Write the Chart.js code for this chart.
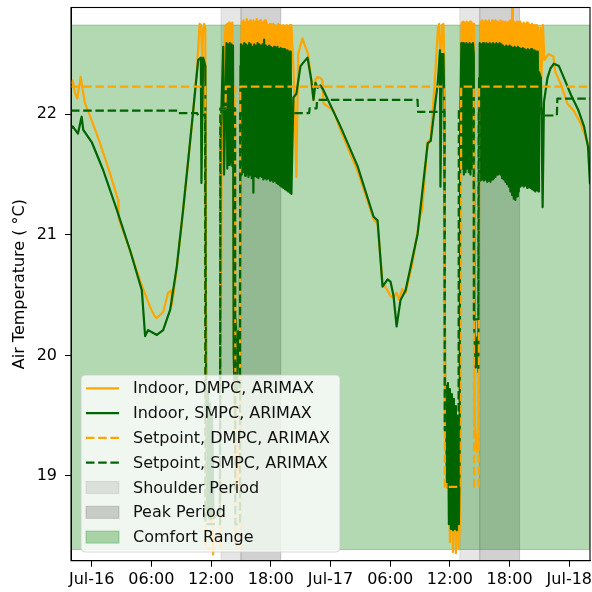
<!DOCTYPE html>
<html>
<head>
<meta charset="utf-8">
<title>Air temperature, DMPC vs SMPC</title>
<script src="https://cdn.jsdelivr.net/npm/chart.js@4.4.1/dist/chart.umd.min.js"></script>
<style>
  html, body { margin: 0; padding: 0; background: #fff; }
  #wrap { width: 592px; height: 592px; }
</style>
</head>
<body>
<div id="wrap"><canvas id="tempChart" width="592" height="592"></canvas></div>
<script>
// x values: hours after midnight Jul-16, y values: deg C
const xTickHours = [0, 6, 12, 18, 24, 30, 36, 42, 48];
const xTickLabels = ['Jul-16', '06:00', '12:00', '18:00', 'Jul-17', '06:00', '12:00', '18:00', 'Jul-18'];
const yTicks = [19, 20, 21, 22];

const comfortLow = 18.39;
const comfortHigh = 22.74;
const shoulderSpans = [[13, 15], [37, 39]];
const peakSpans = [[15, 19], [39, 43]];

// Indoor temperature, DMPC (orange)
const dmpcIndoorDay1 = [
  [-2.08, 22.25], [-1.91, 22.28], [-1.68, 22.18], [-1.45, 22.13], [-1.11, 22.31], [-0.9, 22.2], [-0.67, 22.09],
  [0, 21.95], [0.84, 21.76], [1.84, 21.51], [2.65, 21.29], [2.7, 21.14], [3.86, 20.87], [4.86, 20.62],
  [5.87, 20.4], [6.3, 20.33], [6.55, 20.31], [7.18, 20.36], [7.68, 20.52], [8.0, 20.54], [8.06, 20.42],
  [8.56, 20.73], [9.19, 21.2], [9.7, 21.61], [10.2, 22.02], [10.6, 22.4], [10.75, 22.62], [10.85, 22.75],
  [10.98, 22.74], [11.1, 22.46], [11.2, 22.7], [11.3, 22.75], [11.42, 22.72],
  [11.5, 19.6], [11.6, 18.9], [11.75, 19.3], [11.9, 18.6], [12.05, 19.0], [12.2, 18.35], [12.3, 18.5], [12.9, 18.45],
  [13.05, 21.6], [13.3, 22.5], [13.47, 22.74], [13.55, 22.1], [13.63, 22.75], [13.72, 22.1], [13.8, 22.76],
  [13.88, 22.1], [13.97, 22.75], [14.05, 22.1], [14.13, 22.76], [14.25, 21.8],
  [14.32, 19.4], [14.45, 18.95], [14.6, 19.3], [14.75, 18.9], [14.9, 19.2], [14.97, 22.5]
];
const dmpcPeakDay1 = [
  [15.00, 22.10], [15.08, 22.77], [15.17, 22.05], [15.25, 22.78], [15.33, 22.08], [15.42, 22.76],
  [15.50, 22.04], [15.58, 22.79], [15.67, 22.07], [15.75, 22.77], [15.83, 22.05], [15.92, 22.78],
  [16.00, 22.06], [16.08, 22.76], [16.17, 22.04], [16.25, 22.78], [16.33, 22.07], [16.42, 22.77],
  [16.50, 22.05], [16.58, 22.79], [16.67, 22.06], [16.75, 22.77], [16.83, 22.04], [16.92, 22.78],
  [17.00, 22.07], [17.08, 22.76], [17.17, 22.05], [17.25, 22.77], [17.33, 22.06], [17.42, 22.78],
  [17.50, 22.04], [17.58, 22.76], [17.67, 22.07], [17.75, 22.74], [17.83, 22.05], [17.92, 22.75],
  [18.00, 22.06], [18.08, 22.74], [18.17, 22.04], [18.25, 22.75], [18.33, 22.07], [18.42, 22.74],
  [18.50, 22.05], [18.58, 22.73], [18.67, 22.06], [18.75, 22.75], [18.83, 22.04], [18.92, 22.74],
  [19.00, 22.07], [19.08, 22.73], [19.17, 22.05], [19.25, 22.74], [19.33, 22.06], [19.42, 22.73],
  [19.50, 22.04], [19.58, 22.74], [19.67, 22.07], [19.75, 22.73], [19.83, 22.05], [19.92, 22.74]
];
const dmpcIndoorNight = [
  [20.07, 22.74], [20.3, 22.35], [20.57, 21.48], [20.75, 22.5], [21.18, 22.63], [21.48, 22.56], [21.75, 22.5],
  [22.0, 22.33], [22.29, 22.12], [22.5, 22.29], [22.69, 22.31], [23.0, 22.3], [23.19, 22.28], [23.29, 22.09],
  [24.3, 22.03], [25.0, 21.87], [26.72, 21.53], [28.33, 21.13], [28.73, 21.09], [29.03, 20.8], [29.23, 20.6],
  [29.74, 20.54], [30.04, 20.49], [30.34, 20.48], [30.64, 20.52], [30.9, 20.46], [31.2, 20.55], [31.55, 20.52],
  [32.2, 20.75], [33.0, 21.15], [33.2, 21.2], [33.77, 21.77], [34.07, 21.8], [34.5, 22.3], [34.8, 22.72],
  [34.93, 22.75], [35.08, 22.3], [35.22, 22.74], [35.35, 22.75], [35.45, 22.4],
  [35.52, 19.5], [35.7, 18.9], [35.85, 19.4], [36.0, 18.45], [36.15, 19.2], [36.3, 18.37], [36.45, 19.1],
  [36.6, 18.36], [36.75, 19.0], [36.9, 18.4], [37.0, 18.6], [37.08, 22.3],
  [37.19, 22.76], [37.27, 22.05], [37.36, 22.77], [37.44, 22.05], [37.53, 22.76], [37.61, 22.05], [37.69, 22.77],
  [37.78, 22.05], [37.86, 22.76], [37.94, 22.05], [38.03, 22.77], [38.11, 22.05], [38.19, 22.76], [38.28, 22.05],
  [38.36, 22.75], [38.42, 22.3], [38.47, 19.5], [38.7, 19.2], [38.88, 19.21], [38.95, 22.2]
];
const dmpcPeakDay2 = [
  [39.00, 22.10], [39.08, 22.77], [39.17, 22.05], [39.25, 22.78], [39.33, 22.07], [39.42, 22.77],
  [39.50, 22.04], [39.58, 22.78], [39.67, 22.06], [39.75, 22.77], [39.83, 22.05], [39.92, 22.78],
  [40.00, 22.07], [40.08, 22.76], [40.17, 22.04], [40.25, 22.78], [40.33, 22.06], [40.42, 22.77],
  [40.50, 22.05], [40.58, 22.78], [40.67, 22.07], [40.75, 22.77], [40.83, 22.04], [40.92, 22.76],
  [41.00, 22.06], [41.08, 22.78], [41.17, 22.05], [41.25, 22.77], [41.33, 22.07], [41.42, 22.76],
  [41.50, 22.04], [41.58, 22.77], [41.67, 22.06], [41.75, 22.76], [41.83, 22.05], [41.92, 22.77],
  [42.00, 22.07], [42.08, 22.78], [42.17, 22.04], [42.25, 22.93], [42.33, 22.06], [42.42, 22.77],
  [42.50, 22.05], [42.58, 22.76], [42.67, 22.07], [42.75, 22.77], [42.83, 22.04], [42.92, 22.76],
  [43.00, 22.06], [43.08, 22.77], [43.17, 22.05], [43.25, 22.75], [43.33, 22.07], [43.42, 22.76],
  [43.50, 22.04], [43.58, 22.75], [43.67, 22.06], [43.75, 22.76], [43.83, 22.05], [43.92, 22.75],
  [44.00, 22.07], [44.08, 22.74], [44.17, 22.04], [44.25, 22.75], [44.33, 22.06], [44.42, 22.74],
  [44.50, 22.05], [44.58, 22.74], [44.67, 22.07], [44.75, 22.74]
];
const dmpcIndoorEnd = [
  [44.84, 22.72], [44.95, 22.2], [45.1, 22.72], [45.2, 22.3], [45.35, 22.74], [45.5, 22.45], [45.9, 22.5],
  [46.4, 22.48], [46.6, 22.35], [47.1, 22.26], [47.8, 22.09], [48.45, 22.03], [49.17, 21.92], [49.85, 21.76],
  [50.08, 21.68]
];

// Indoor temperature, SMPC (dark green)
const smpcIndoorDay1 = [
  [-2.08, 21.88], [-1.91, 21.9], [-1.38, 21.84], [-1.01, 21.98], [-0.85, 21.87], [0, 21.77], [1.14, 21.54],
  [2.52, 21.21], [3.86, 20.87], [5.04, 20.54], [5.37, 20.16], [5.67, 20.21], [6.1, 20.19], [6.55, 20.17],
  [7.18, 20.21], [7.89, 20.38], [8.56, 20.74], [9.19, 21.21], [9.7, 21.62], [10.2, 22.03], [10.7, 22.45],
  [10.97, 22.47], [11.03, 21.43], [11.2, 22.47], [11.42, 22.4],
  [11.5, 19.8], [11.6, 18.7], [11.7, 19.7], [11.8, 18.65], [11.9, 19.6], [12.0, 18.64], [12.1, 19.5],
  [12.25, 18.65], [12.88, 18.7], [12.95, 21.8], [13.22, 22.56], [13.3, 21.5], [13.55, 22.59], [13.63, 21.55],
  [13.72, 22.58], [13.8, 21.58], [13.88, 22.59], [13.97, 21.6], [14.05, 22.58], [14.13, 21.57], [14.2, 22.57],
  [14.27, 20.0], [14.4, 19.6], [14.5, 20.3], [14.62, 19.7], [14.75, 20.2], [14.88, 19.9], [14.95, 22.4]
];
const smpcPeakDay1 = [
  [15.00, 22.58], [15.08, 21.50], [15.17, 22.57], [15.25, 21.52], [15.33, 22.59], [15.42, 21.49],
  [15.50, 22.58], [15.58, 21.51], [15.67, 22.57], [15.75, 21.48], [15.83, 22.59], [15.92, 21.50],
  [16.00, 22.58], [16.08, 21.47], [16.17, 22.56], [16.25, 21.35], [16.33, 22.58], [16.42, 21.49],
  [16.50, 22.57], [16.58, 21.48], [16.67, 22.59], [16.75, 21.47], [16.83, 22.58], [16.92, 21.49],
  [17.00, 22.57], [17.08, 21.48], [17.17, 22.58], [17.25, 21.46], [17.33, 22.62], [17.42, 21.47],
  [17.50, 22.57], [17.58, 21.46], [17.67, 22.56], [17.75, 21.47], [17.83, 22.57], [17.92, 21.45],
  [18.00, 22.56], [18.08, 21.46], [18.17, 22.55], [18.25, 21.44], [18.33, 22.56], [18.42, 21.45],
  [18.50, 22.55], [18.58, 21.43], [18.67, 22.56], [18.75, 21.42], [18.83, 22.54], [18.92, 21.41],
  [19.00, 22.55], [19.08, 21.40], [19.17, 22.54], [19.25, 21.39], [19.33, 22.54], [19.42, 21.38],
  [19.50, 22.53], [19.58, 21.37], [19.67, 22.53], [19.75, 21.36], [19.83, 22.52], [19.92, 21.35],
  [20.00, 22.52]
];
const smpcIndoorNight = [
  [20.07, 21.34], [20.27, 22.14], [20.57, 22.17], [20.98, 22.4], [21.69, 22.47], [22.08, 22.28], [22.29, 22.12],
  [22.49, 22.26], [22.69, 22.22], [22.99, 22.24], [23.29, 22.2], [25.0, 21.9], [26.72, 21.57], [28.33, 21.15],
  [28.73, 21.12], [29.03, 20.79], [29.23, 20.57], [29.74, 20.63], [30.04, 20.61], [30.34, 20.49], [30.64, 20.24],
  [31.04, 20.46], [31.55, 20.54], [32.76, 21.01], [33.77, 21.76], [34.07, 21.78], [34.78, 22.26], [35.0, 22.53],
  [35.05, 21.4], [35.2, 22.5], [35.35, 22.5], [35.45, 22.0],
  [35.52, 19.6], [35.6, 19.75], [35.7, 18.95], [35.8, 19.77], [35.9, 18.6], [36.0, 19.72], [36.1, 18.56],
  [36.2, 19.68], [36.3, 18.55], [36.4, 19.64], [36.5, 18.56], [36.6, 19.58], [36.7, 18.55], [36.8, 19.5],
  [36.9, 18.6], [36.98, 19.2], [37.03, 21.8], [37.15, 22.59], [37.23, 21.55], [37.32, 22.59], [37.4, 21.5],
  [37.48, 22.58], [37.57, 21.52], [37.65, 22.59], [37.73, 21.55], [37.82, 22.58], [37.9, 21.52], [37.98, 22.59],
  [38.07, 21.5], [38.15, 22.58], [38.23, 21.55], [38.32, 22.59], [38.4, 22.5], [38.46, 20.2], [38.6, 19.9],
  [38.75, 20.15], [38.86, 19.86], [38.93, 22.3]
];
const smpcPeakDay2 = [
  [39.00, 22.59], [39.08, 21.45], [39.17, 22.58], [39.25, 21.46], [39.33, 22.59], [39.42, 21.45],
  [39.50, 22.58], [39.58, 21.46], [39.67, 22.59], [39.75, 21.44], [39.83, 22.58], [39.92, 21.45],
  [40.00, 22.59], [40.08, 21.44], [40.17, 22.58], [40.25, 21.46], [40.33, 22.59], [40.42, 21.47],
  [40.50, 22.58], [40.58, 21.48], [40.67, 22.59], [40.75, 21.50], [40.83, 22.58], [40.92, 21.51],
  [41.00, 22.59], [41.08, 21.50], [41.17, 22.58], [41.25, 21.47], [41.33, 22.57], [41.42, 21.46],
  [41.50, 22.56], [41.58, 21.44], [41.67, 22.57], [41.75, 21.42], [41.83, 22.56], [41.92, 21.40],
  [42.00, 22.57], [42.08, 21.36], [42.17, 22.56], [42.25, 21.33], [42.33, 22.55], [42.42, 21.30],
  [42.50, 22.56], [42.58, 21.29], [42.67, 22.55], [42.75, 21.32], [42.83, 22.56], [42.92, 21.36],
  [43.00, 22.55], [43.08, 21.40], [43.17, 22.54], [43.25, 21.41], [43.33, 22.55], [43.42, 21.40],
  [43.50, 22.54], [43.58, 21.41], [43.67, 22.53], [43.75, 21.39], [43.83, 22.54], [43.92, 21.40],
  [44.00, 22.53], [44.08, 21.39], [44.17, 22.54], [44.25, 21.38], [44.33, 22.53], [44.42, 21.37],
  [44.50, 22.53], [44.58, 21.36], [44.67, 22.52], [44.75, 21.37], [44.83, 22.52]
];
const smpcIndoorEnd = [
  [44.9, 21.36], [44.95, 22.35], [45.15, 22.3], [45.32, 21.23], [45.45, 22.1], [45.8, 22.3], [46.1, 22.38],
  [46.46, 22.42], [46.96, 22.4], [47.47, 22.3], [48.17, 22.16], [48.88, 22.04], [49.48, 21.9], [49.88, 21.73],
  [50.08, 21.42]
];

// Setpoints
const dmpcSetpoint = [
  [-2.08, 22.23], [11.42, 22.23], [11.45, 18.4], [12.9, 18.4], [12.93, 22.05], [13.45, 22.05], [13.48, 22.23],
  [14.42, 22.23], [14.45, 18.4], [14.9, 18.4], [14.93, 22.23], [35.46, 22.23], [35.49, 18.91], [37.1, 18.91],
  [37.13, 22.23], [38.4, 22.23], [38.43, 18.91], [38.9, 18.91], [38.93, 22.23], [50.08, 22.23]
];
const smpcSetpoint = [
  [-2.08, 22.03], [8.7, 22.03], [8.75, 22.01], [10.6, 22.01], [10.7, 21.99], [11.2, 21.99], [11.4, 22.0],
  [11.43, 18.6], [12.9, 18.6], [12.93, 22.05], [14.41, 22.05], [14.44, 18.6], [14.9, 18.6], [14.93, 22.01],
  [21.85, 22.01], [21.9, 22.05], [22.6, 22.05], [22.65, 22.12], [32.75, 22.12], [32.8, 22.02], [35.45, 22.02],
  [35.48, 19.38], [36.87, 19.38], [36.9, 22.05], [38.38, 22.05], [38.41, 20.3], [38.87, 20.3], [38.9, 22.05],
  [45.2, 22.05], [45.25, 21.99], [46.75, 21.99], [46.8, 22.13], [50.08, 22.13]
];

const legendPatches = [
  { label: 'Shoulder Period', fill: 'rgba(128,128,128,0.2)' },
  { label: 'Peak Period', fill: 'rgba(128,128,128,0.36)' },
  { label: 'Comfort Range', fill: 'rgba(0,128,0,0.3)' }
];

const toPoints = pairs => pairs.map(([x, y]) => ({ x, y }));
const fontFamily = '"DejaVu Sans", sans-serif';
const dash = [8.5, 3.7];

// grey periods and green comfort band behind the lines
const shadingPlugin = {
  id: 'shading',
  beforeDatasetsDraw(chart) {
    const { ctx, chartArea: a, scales } = chart;
    const xs = scales.x, ys = scales.y;
    ctx.save();
    ctx.beginPath();
    ctx.rect(a.left, a.top, a.width, a.height);
    ctx.clip();
    const spans = (list, color) => list.forEach(([s, e]) => {
      const x0 = xs.getPixelForValue(s), x1 = xs.getPixelForValue(e);
      ctx.fillStyle = color;
      ctx.fillRect(x0, a.top, x1 - x0, a.height);
      ctx.strokeStyle = color;
      ctx.lineWidth = 1;
      ctx.strokeRect(x0, a.top - 2, x1 - x0, a.height + 4);
    });
    spans(shoulderSpans, legendPatches[0].fill);
    spans(peakSpans, legendPatches[1].fill);
    const yTop = ys.getPixelForValue(comfortHigh), yBot = ys.getPixelForValue(comfortLow);
    ctx.fillStyle = legendPatches[2].fill;
    ctx.fillRect(a.left, yTop, a.width, yBot - yTop);
    ctx.strokeStyle = legendPatches[2].fill;
    ctx.strokeRect(a.left - 2, yTop, a.width + 4, yBot - yTop);
    ctx.restore();
  }
};

const framePlugin = {
  id: 'frame',
  afterDatasetsDraw(chart) {
    const { ctx, chartArea: a } = chart;
    ctx.save();
    ctx.strokeStyle = '#000';
    ctx.lineWidth = 1.1;
    ctx.strokeRect(a.left, a.top, a.width, a.height);
    ctx.restore();
  }
};

// legend inside the axes, drawn over everything
const legendPlugin = {
  id: 'insideLegend',
  afterDraw(chart) {
    const ctx = chart.ctx;
    const x0 = 81, y0 = 375, w = 259, h = 177, r = 4;
    ctx.save();
    ctx.beginPath();
    ctx.moveTo(x0 + r, y0);
    ctx.arcTo(x0 + w, y0, x0 + w, y0 + h, r);
    ctx.arcTo(x0 + w, y0 + h, x0, y0 + h, r);
    ctx.arcTo(x0, y0 + h, x0, y0, r);
    ctx.arcTo(x0, y0, x0 + w, y0, r);
    ctx.closePath();
    ctx.fillStyle = 'rgba(255,255,255,0.8)';
    ctx.fill();
    ctx.strokeStyle = 'rgba(204,204,204,0.8)';
    ctx.lineWidth = 1;
    ctx.stroke();

    ctx.font = '16px ' + fontFamily;
    ctx.textBaseline = 'middle';
    const rows = chart.data.datasets.map(ds => ({ label: ds.label, line: ds }))
      .concat(legendPatches.map(p => ({ label: p.label, patch: p })));
    rows.forEach((row, i) => {
      const cy = 388.3 + i * 24.8;
      if (row.line) {
        ctx.strokeStyle = row.line.borderColor;
        ctx.lineWidth = row.line.borderWidth;
        ctx.setLineDash(row.line.borderDash || []);
        ctx.beginPath();
        ctx.moveTo(86, cy);
        ctx.lineTo(119, cy);
        ctx.stroke();
        ctx.setLineDash([]);
      } else {
        ctx.fillStyle = row.patch.fill;
        ctx.fillRect(86, cy - 6, 33, 12);
        ctx.strokeStyle = row.patch.fill;
        ctx.lineWidth = 1;
        ctx.strokeRect(86, cy - 6, 33, 12);
      }
      ctx.fillStyle = '#111';
      ctx.fillText(row.label, 133, cy + 1);
    });
    ctx.restore();
  }
};

const lineStyle = {
  pointRadius: 0,
  borderWidth: 2.2,
  fill: false,
  tension: 0,
  clip: 0,
  borderJoinStyle: 'round'
};

const ctx = document.getElementById('tempChart');
const tempChart = new Chart(ctx, {
  type: 'line',
  data: {
    datasets: [
      Object.assign({
        label: 'Indoor, DMPC, ARIMAX',
        data: toPoints([].concat(dmpcIndoorDay1, dmpcPeakDay1, dmpcIndoorNight, dmpcPeakDay2, dmpcIndoorEnd)),
        borderColor: 'orange',
        order: 4
      }, lineStyle),
      Object.assign({
        label: 'Indoor, SMPC, ARIMAX',
        data: toPoints([].concat(smpcIndoorDay1, smpcPeakDay1, smpcIndoorNight, smpcPeakDay2, smpcIndoorEnd)),
        borderColor: 'darkgreen',
        order: 3
      }, lineStyle),
      Object.assign({
        label: 'Setpoint, DMPC, ARIMAX',
        data: toPoints(dmpcSetpoint),
        borderColor: 'orange',
        borderDash: dash,
        order: 2
      }, lineStyle),
      Object.assign({
        label: 'Setpoint, SMPC, ARIMAX',
        data: toPoints(smpcSetpoint),
        borderColor: 'darkgreen',
        borderDash: dash,
        order: 1
      }, lineStyle)
    ]
  },
  options: {
    responsive: false,
    animation: false,
    devicePixelRatio: 1,
    layout: { padding: { left: 0, right: 2, top: 7.5, bottom: 0 } },
    plugins: {
      legend: { display: false },
      tooltip: { enabled: false }
    },
    scales: {
      x: {
        type: 'linear',
        min: -2.08,
        max: 50.08,
        afterBuildTicks: scale => { scale.ticks = xTickHours.map(v => ({ value: v })); },
        afterFit: scale => {
          scale.height = 31.3;
          scale.paddingLeft = 0;
          scale.paddingRight = 0;
        },
        ticks: {
          autoSkip: false,
          maxRotation: 0,
          padding: 4,
          color: '#000',
          font: { family: fontFamily, size: 16 },
          callback: (value, index) => xTickLabels[index]
        },
        grid: { drawOnChartArea: false, drawTicks: true, tickLength: 6, color: '#000' },
        border: { display: true, color: '#000', width: 1 }
      },
      y: {
        type: 'linear',
        min: 18.297,
        max: 22.886,
        afterBuildTicks: scale => { scale.ticks = yTicks.map(v => ({ value: v })); },
        afterFit: scale => {
          scale.width = 71;
          scale.paddingTop = 0;
          scale.paddingBottom = 0;
        },
        ticks: {
          padding: 8,
          color: '#000',
          font: { family: fontFamily, size: 16 },
          callback: value => String(value)
        },
        grid: { drawOnChartArea: false, drawTicks: true, tickLength: 6, color: '#000' },
        border: { display: true, color: '#000', width: 1 },
        title: {
          display: true,
          text: 'Air Temperature ( \u00B0C)',
          color: '#000',
          font: { family: fontFamily, size: 16 },
          padding: { top: 10, bottom: 0 }
        }
      }
    }
  },
  plugins: [shadingPlugin, framePlugin, legendPlugin]
});
</script>
</body>
</html>
